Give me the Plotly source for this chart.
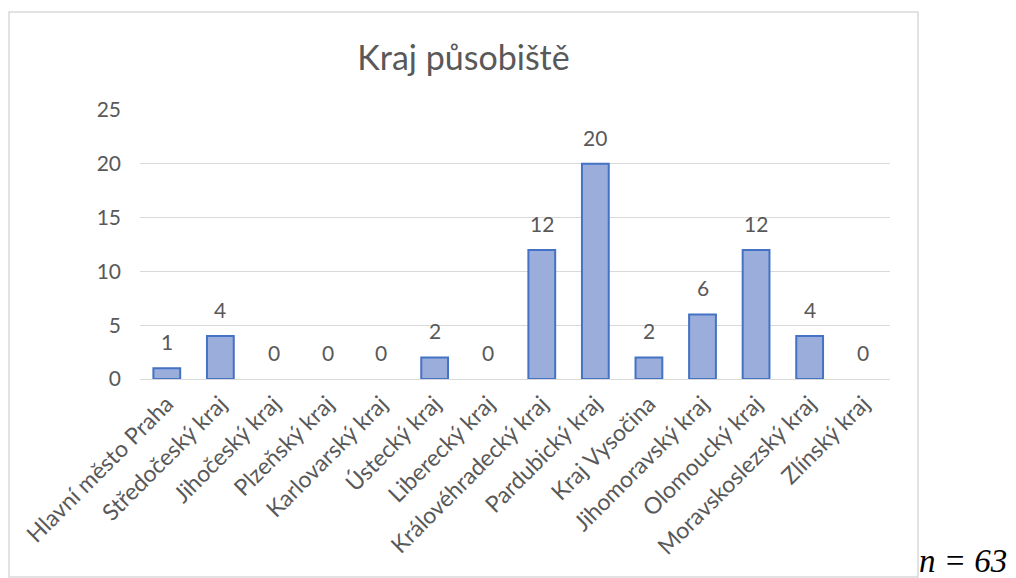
import plotly.graph_objects as go

categories = ["Hlavní město Praha", "Středočeský kraj", "Jihočeský kraj", "Plzeňský kraj",
              "Karlovarský kraj", "Ústecký kraj", "Liberecký kraj", "Královéhradecký kraj",
              "Pardubický kraj", "Kraj Vysočina", "Jihomoravský kraj", "Olomoucký kraj",
              "Moravskoslezský kraj", "Zlínský kraj"]
values = [1, 4, 0, 0, 0, 2, 0, 12, 20, 2, 6, 12, 4, 0]
y_ticks = [0, 5, 10, 15, 20, 25]

OFF = 8  # default page body margin
W, H = 1016 - OFF, 578 - OFF
L, R, T, B = 140 - OFF, 890 - OFF, 110 - OFF, 379 - OFF
pw, ph = R - L, B - T

def px(x):
    return (x - OFF - L) / pw

def py(y):
    return (B - (y - OFF)) / ph

font = "Lato, Open Sans, sans-serif"
gray = "#595959"

fig = go.Figure(go.Bar(
    x=categories, y=values, width=0.5,
    marker=dict(color="#9AADDB",
                line=dict(color="#4472C4", width=[2 if v > 0 else 0 for v in values])),
    hoverinfo="x+y",
))

annotations = [dict(x=c, y=v, xref="x", yref="y", text=str(v), showarrow=False,
                    yanchor="bottom", yshift=12,
                    font=dict(family=font, size=21, color=gray))
               for c, v in zip(categories, values)]

annotations.append(dict(text="<i>n = 63</i>", xref="paper", yref="paper",
                        x=px(917), y=py(561), xanchor="left", yanchor="middle",
                        showarrow=False,
                        font=dict(family="'Liberation Serif', 'DejaVu Serif', serif",
                                  size=33, color="black")))

fig.update_layout(
    width=W, height=H,
    margin=dict(l=L, r=W - R, t=T, b=H - B, autoexpand=False),
    paper_bgcolor="white", plot_bgcolor="white",
    showlegend=False,
    title=dict(text="Kraj působiště", x=px(463.5), xref="paper", xanchor="center",
               y=1 - (58 - OFF) / H, yanchor="middle",
               font=dict(family=font, size=34, color=gray)),
    xaxis=dict(tickangle=-45, tickfont=dict(family=font, size=23, color=gray),
               showgrid=False, showline=False, ticks="", automargin=False,
               ticklabelstandoff=6),
    yaxis=dict(range=[0, 25], tickvals=y_ticks, showgrid=True, gridcolor="#D9D9D9",
               gridwidth=1, zeroline=True, zerolinecolor="#D9D9D9", zerolinewidth=1,
               tickfont=dict(family=font, size=21, color=gray), ticks="", ticklen=0,
               ticklabelstandoff=18, automargin=False),
    shapes=[dict(type="rect", xref="paper", yref="paper",
                 x0=px(9), x1=px(918), y0=py(577), y1=py(12),
                 line=dict(color="#D9D9D9", width=1.5), layer="below")],
    annotations=annotations,
)

fig.write_html("out.html")
